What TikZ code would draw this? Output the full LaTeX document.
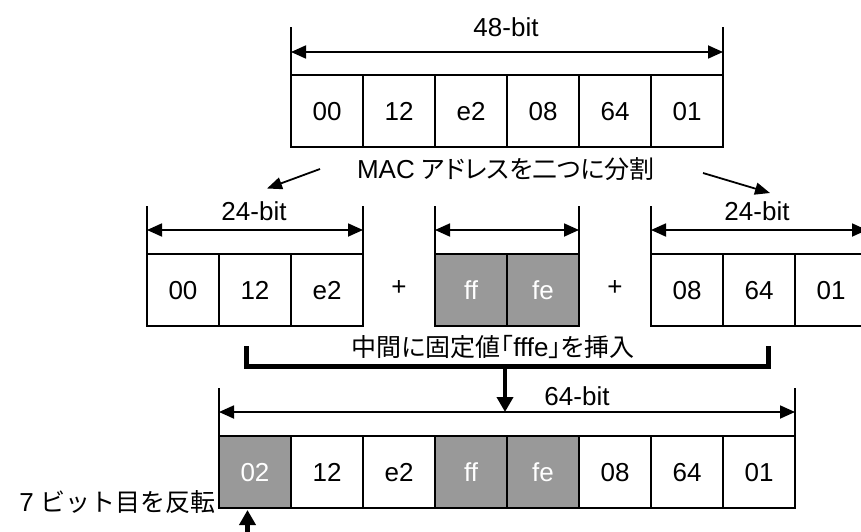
\documentclass[tikz,border=0pt]{standalone}
\usepackage{fontspec}
\setmainfont{Liberation Sans}
\newfontfamily\cjk{Noto Sans CJK JP}
\newfontfamily\cjkp[RawFeature=+palt]{Noto Sans CJK JP}
\usetikzlibrary{arrows.meta}
\definecolor{cellgray}{HTML}{999999}
\begin{document}
\begin{tikzpicture}[x=1pt,y=-1pt,
  txt/.style={font=\fontsize{26}{30}\selectfont, inner sep=0pt},
  jtxt/.style={font=\fontsize{25}{30}\selectfont, inner sep=0pt},
  cell/.style={txt, draw, line width=1.8pt, minimum width=72pt, minimum height=72pt, outer sep=0pt, text height=18.6pt, text depth=0pt},
  graycell/.style={cell, fill=cellgray, text=white},
  thinline/.style={line width=1.8pt},
  dimarrow/.style={line width=1.8pt, {Triangle[length=15pt,width=13pt]}-{Triangle[length=15pt,width=13pt]}},
  pointer/.style={line width=1.8pt, -{Triangle[length=15pt,width=12pt]}},
  bigarrow/.style={line width=4.5pt, -{Triangle[length=15pt,width=16pt]}},
  bracketline/.style={line width=5pt, line join=miter},
]
\useasboundingbox (0,0) rectangle (861,532);
\clip (0,0) rectangle (861,532);

% top row (48-bit)
\foreach \n/\x/\t in {1/327/00,2/399/12,3/471/e2,4/543/08,5/615/64,6/687/01}
  \node[cell] (t\n) at (\x,111) {\t};
\draw[thinline] (t1.north west) -- ++(0,-48);
\draw[thinline] (t6.north east) -- ++(0,-48);
\coordinate (tda) at ([yshift=23pt]t1.north west);
\coordinate (tdb) at ([yshift=23pt]t6.north east);
\draw[dimarrow] (tda) -- (tdb);
\node[txt] (tlbl) at (506,27) {48-bit};

\node[jtxt] (split) at (506,169) {{\fontsize{26}{30}\selectfont MAC} {\cjkp アドレスを二つに分割}};

% middle row
\foreach \n/\x/\t in {1/183/00,2/255/12,3/327/e2}
  \node[cell] (l\n) at (\x,290) {\t};
\foreach \n/\x/\t in {1/471/ff,2/543/fe}
  \node[graycell] (g\n) at (\x,290) {\t};
\foreach \n/\x/\t in {1/687/08,2/759/64,3/831/01}
  \node[cell] (r\n) at (\x,290) {\t};
\node[txt] (plus1) at (399,288) {+};
\node[txt] (plus2) at (615,288) {+};

\foreach \c in {l1.north west,l3.north east,g1.north west,g2.north east,r1.north west,r3.north east}
  \draw[thinline] (\c) -- ++(0,-48);
\coordinate (lda) at ([yshift=24pt]l1.north west);
\coordinate (ldb) at ([yshift=24pt]l3.north east);
\coordinate (gda) at ([yshift=24pt]g1.north west);
\coordinate (gdb) at ([yshift=24pt]g2.north east);
\coordinate (rda) at ([yshift=24pt]r1.north west);
\coordinate (rdb) at ([yshift=24pt]r3.north east);
\draw[dimarrow] (lda) -- (ldb);
\draw[dimarrow] (gda) -- (gdb);
\draw[dimarrow] (rda) -- (rdb);
\node[txt] (llbl) at (254,211) {24-bit};
\node[txt] (rlbl) at (757,211) {24-bit};

% split pointers
\coordinate (pla) at (320,169);
\coordinate (plb) at (267,188.5);
\coordinate (pra) at (703,173);
\coordinate (prb) at (770,193);
\draw[pointer] (pla) -- (plb);
\draw[pointer] (pra) -- (prb);

% bracket
\node[jtxt] (insert) at (493,347) {{\cjkp 中間に固定値「}{\fontsize{26}{30}\selectfont fffe}{\cjkp 」を挿入}};
\coordinate (bka) at (246,346);
\coordinate (bkb) at (246,366);
\coordinate (bkc) at (768,366);
\coordinate (bkd) at (768,346);
\draw[bracketline] (bka) -- (bkb) -- (bkc) -- (bkd);
\coordinate (bkm) at (505,366);

% bottom row (64-bit)
\node[graycell] (b1) at (255,472) {02};
\node[cell] (b2) at (327,472) {12};
\node[cell] (b3) at (399,472) {e2};
\node[graycell] (b4) at (471,472) {ff};
\node[graycell] (b5) at (543,472) {fe};
\node[cell] (b6) at (615,472) {08};
\node[cell] (b7) at (687,472) {64};
\node[cell] (b8) at (759,472) {01};
\draw[thinline] (b1.north west) -- ++(0,-48);
\draw[thinline] (b8.north east) -- ++(0,-48);
\coordinate (bda) at ([yshift=24pt]b1.north west);
\coordinate (bdb) at ([yshift=24pt]b8.north east);
\draw[dimarrow] (bda) -- (bdb);
\node[txt] (blbl) at (577,396) {64-bit};
\coordinate (bkt) at (505,412);
\draw[bigarrow] (bkm) -- (bkt);

% flip note
\node[jtxt] (flip) at (117.5,502) {{\fontsize{26}{30}\selectfont 7} {\cjk ビット目を反転}};
\coordinate (fa) at (247.5,545);
\coordinate (fb) at (247.5,510);
\draw[bigarrow] (fa) -- (fb);
\end{tikzpicture}
\end{document}
